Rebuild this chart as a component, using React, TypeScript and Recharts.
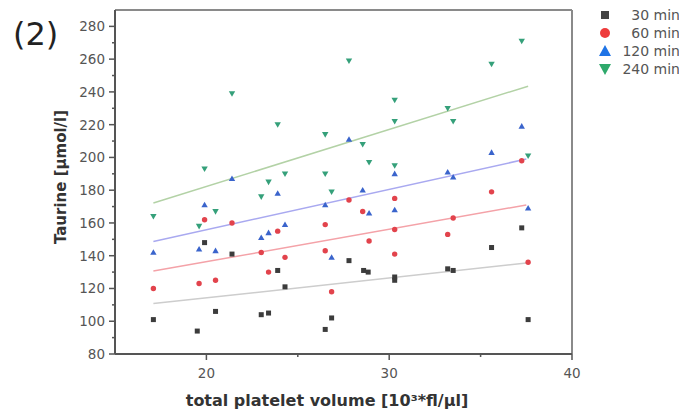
import { ScatterChart, Scatter, XAxis, YAxis, ReferenceLine } from 'recharts';

// x = total platelet volume, y = taurine, one pair of arrays per time point
const x30 = [17.1, 19.5, 19.9, 20.5, 21.4, 23.0, 23.4, 23.9, 24.3, 26.5, 26.85, 27.8, 28.6, 28.85, 30.3, 30.3, 33.2, 33.5, 35.6, 37.25, 37.6];
const y30 = [101, 94, 148, 106, 141, 104, 105, 131, 121, 95, 102, 137, 131, 130, 127, 125, 132, 131, 145, 157, 101];

const x60 = [17.1, 19.6, 19.9, 20.5, 21.4, 23.0, 23.4, 23.9, 24.3, 26.5, 26.5, 26.85, 27.8, 28.55, 28.9, 30.3, 30.3, 30.3, 33.2, 33.5, 35.6, 37.25, 37.6];
const y60 = [120, 123, 162, 125, 160, 142, 130, 155, 139, 159, 143, 118, 174, 167, 149, 175, 156, 141, 153, 163, 179, 198, 136];

const x120 = [17.1, 19.6, 19.9, 20.5, 21.4, 23.0, 23.4, 23.9, 24.3, 26.5, 26.85, 27.8, 28.55, 28.9, 30.3, 30.3, 33.2, 33.5, 35.6, 37.25, 37.6];
const y120 = [142, 144, 171, 143, 187, 151, 154, 178, 159, 171, 139, 211, 180, 166, 190, 168, 191, 188, 203, 219, 169];

const x240 = [17.1, 19.6, 19.9, 20.5, 21.4, 23.0, 23.4, 23.9, 24.3, 26.5, 26.5, 26.85, 27.8, 28.55, 28.9, 30.3, 30.3, 30.3, 33.2, 33.5, 35.6, 37.25, 37.6];
const y240 = [164, 158, 193, 167, 239, 176, 185, 220, 190, 214, 190, 179, 259, 208, 197, 235, 222, 195, 230, 222, 257, 271, 201];

// fitted lines (start and end)
const fit30 = [{ x: 17.1, y: 110.8 }, { x: 37.5, y: 135.5 }];
const fit60 = [{ x: 17.1, y: 130.6 }, { x: 37.5, y: 171 }];
const fit120 = [{ x: 17.1, y: 148.7 }, { x: 37.5, y: 199 }];
const fit240 = [{ x: 17.1, y: 172.2 }, { x: 37.6, y: 243.5 }];

const xTicks = [20, 25, 30, 35, 40];
const yTicks = [80, 90, 100, 110, 120, 130, 140, 150, 160, 170, 180, 190, 200, 210, 220, 230, 240, 250, 260, 270, 280];
const seriesNames = ['30 min', '60 min', '120 min', '240 min'];

const toPoints = (xs: number[], ys: number[]) => xs.map((x, i) => ({ x, y: ys[i] }));

const AXIS = '#555';
const FRAME = '#8a8a8a';

const square = (color: string) => (p: any) => (
  <rect x={p.cx - 2.5} y={p.cy - 2.5} width={5} height={5} fill={color} />
);
const circle = (color: string) => (p: any) => <circle cx={p.cx} cy={p.cy} r={2.7} fill={color} />;
const triUp = (color: string) => (p: any) => (
  <path d={`M${p.cx},${p.cy - 3.2}L${p.cx + 3.2},${p.cy + 2.4}L${p.cx - 3.2},${p.cy + 2.4}Z`} fill={color} />
);
const triDown = (color: string) => (p: any) => (
  <path d={`M${p.cx},${p.cy + 3.2}L${p.cx + 3.2},${p.cy - 2.4}L${p.cx - 3.2},${p.cy - 2.4}Z`} fill={color} />
);

function YTick({ x, y, payload }: any) {
  const v = payload.value;
  const major = v % 20 === 0;
  return (
    <g>
      <line x1={x} x2={x - (major ? 6 : 3)} y1={y} y2={y} stroke={AXIS} strokeWidth={1.5} />
      {major && (
        <text x={x - 10} y={y + 5} textAnchor="end" fontSize={13.5} fill="#555" fontFamily="DejaVu Sans">
          {v}
        </text>
      )}
    </g>
  );
}

function XTick({ x, y, payload }: any) {
  const v = payload.value;
  const major = v % 10 === 0;
  return (
    <g>
      <line x1={x} x2={x} y1={y} y2={y + (major ? 6 : 3)} stroke={AXIS} strokeWidth={1.5} />
      {major && (
        <text x={x} y={y + 24} textAnchor="middle" fontSize={13.5} fill="#555" fontFamily="DejaVu Sans">
          {v}
        </text>
      )}
    </g>
  );
}

export default function App() {
  return (
    <div
      style={{
        position: 'fixed',
        left: 0,
        top: 0,
        width: 679,
        height: 412,
        overflow: 'hidden',
        background: '#fff',
        fontFamily: 'DejaVu Sans',
      }}
    >
      <ScatterChart width={679} height={412} margin={{ top: 10, right: 107, bottom: 38, left: 55 }}>
        <XAxis
          type="number"
          dataKey="x"
          domain={[15, 40]}
          ticks={xTicks}
          interval={0}
          tickSize={0}
          tickMargin={0}
          tick={<XTick />}
          tickLine={false}
          axisLine={{ stroke: AXIS, strokeWidth: 2 }}
          height={20}
          allowDataOverflow
        />
        <YAxis
          type="number"
          dataKey="y"
          domain={[80, 290]}
          ticks={yTicks}
          interval={0}
          tickSize={0}
          tickMargin={0}
          tick={<YTick />}
          tickLine={false}
          axisLine={{ stroke: AXIS, strokeWidth: 2 }}
          width={60}
          allowDataOverflow
        />
        {/* top and right sides of the frame */}
        <ReferenceLine y={290} stroke={FRAME} strokeWidth={2} />
        <ReferenceLine x={40} stroke={FRAME} strokeWidth={2} />
        <ReferenceLine segment={fit30} stroke="#cdcdcd" strokeWidth={1.5} />
        <ReferenceLine segment={fit60} stroke="#f4a2a8" strokeWidth={1.5} />
        <ReferenceLine segment={fit120} stroke="#a9a9f0" strokeWidth={1.5} />
        <ReferenceLine segment={fit240} stroke="#b3d2a6" strokeWidth={1.5} />
        <Scatter name="30 min" data={toPoints(x30, y30)} shape={square('#3c3c3c')} isAnimationActive={false} />
        <Scatter name="60 min" data={toPoints(x60, y60)} shape={circle('#e2434c')} isAnimationActive={false} />
        <Scatter name="120 min" data={toPoints(x120, y120)} shape={triUp('#3a64cc')} isAnimationActive={false} />
        <Scatter name="240 min" data={toPoints(x240, y240)} shape={triDown('#35a07a')} isAnimationActive={false} />
      </ScatterChart>

      <div style={{ position: 'absolute', left: 13, top: 14, fontSize: 32, lineHeight: '40px', color: '#222' }}>(2)</div>

      <div
        style={{
          position: 'absolute',
          left: 61,
          top: 177,
          transform: 'translate(-50%, -50%) rotate(-90deg)',
          fontSize: 15,
          fontWeight: 'bold',
          color: '#333',
          whiteSpace: 'nowrap',
        }}
      >
        Taurine [µmol/l]
      </div>

      <div
        style={{
          position: 'absolute',
          left: 327,
          top: 400,
          transform: 'translate(-50%, -50%)',
          fontSize: 16,
          fontWeight: 'bold',
          color: '#333',
          whiteSpace: 'nowrap',
        }}
      >
        total platelet volume [10³*fl/µl]
      </div>

      <svg style={{ position: 'absolute', left: 590, top: 0 }} width={89} height={80}>
        <rect x={11} y={11} width={8} height={8} fill="#444" />
        <circle cx={15} cy={33} r={5} fill="#ee3b3b" />
        <path d="M15,45L21,56L9,56Z" fill="#1f74e6" />
        <path d="M15,75L21,64L9,64Z" fill="#2ea96b" />
        {seriesNames.map((n, i) => (
          <text key={n} x={90} y={20 + i * 18} textAnchor="end" fontSize={14} fill="#555" fontFamily="DejaVu Sans">
            {n}
          </text>
        ))}
      </svg>
    </div>
  );
}
